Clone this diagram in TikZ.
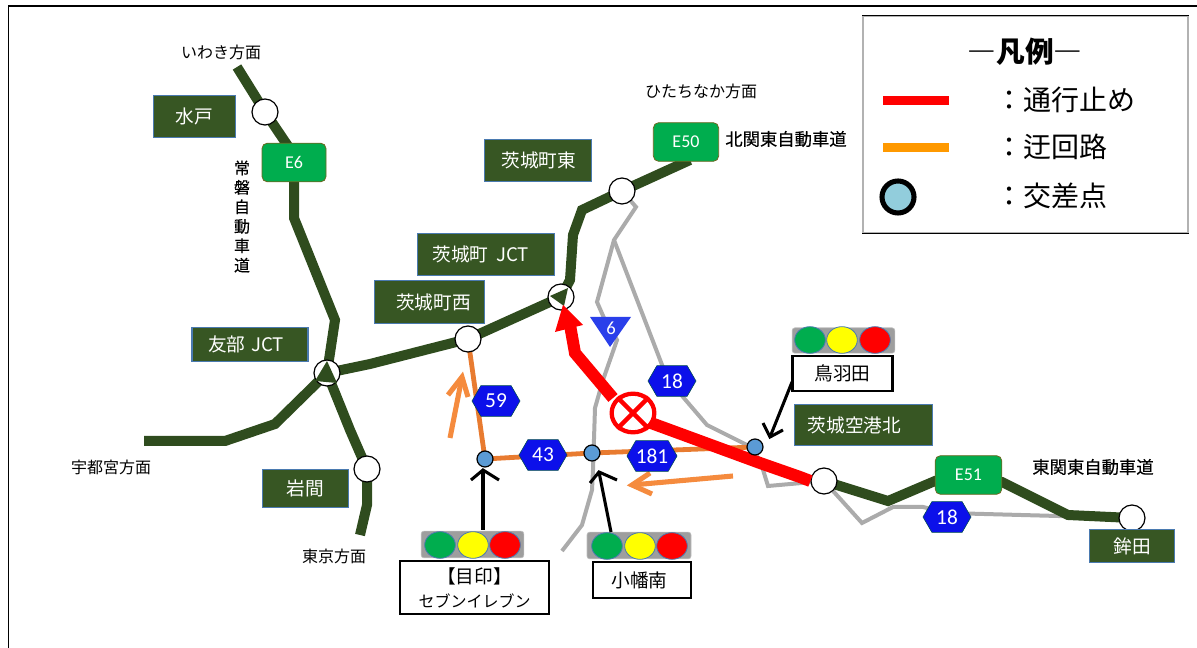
\documentclass[tikz,border=0pt]{standalone}
\usepackage{fontspec}
\setmainfont{Noto Sans CJK JP}
\newfontfamily\latinlabel{Carlito}
\newfontfamily\heavyjp[FakeBold=0.35]{Noto Sans CJK JP}
\usetikzlibrary{shapes.geometric,shapes.symbols}
\definecolor{roadgreen}{HTML}{2F4C1E}
\definecolor{labelgreen}{HTML}{375623}
\definecolor{labeledge}{HTML}{4A7AB0}
\definecolor{sigcolgreen}{HTML}{00AD4E}
\definecolor{hexblue}{HTML}{0C10EA}
\definecolor{tribue}{HTML}{2A3FEA}
\definecolor{detour}{HTML}{E87B30}
\definecolor{detourlight}{HTML}{F58B3E}
\definecolor{legendorange}{HTML}{FF9900}
\definecolor{interblue}{HTML}{5B9BD5}
\definecolor{legendblue}{HTML}{92CDDC}
\definecolor{sigyellow}{HTML}{FFFF00}
\tikzset{
  road/.style={draw=roadgreen,line width=7.5pt,line join=miter,line cap=butt},
  grayroad/.style={draw=black!33,line width=3pt,line join=miter},
  detourline/.style={draw=detour,line width=3.6pt},
  redroad/.style={draw=red,line width=9pt,line join=miter},
  softarrow/.style={draw=detourlight,line width=3.8pt,line join=miter},
  blackarrow/.style={draw=black,line width=2.3pt,line join=miter},
  ic/.style={circle,draw=black,line width=.9pt,fill=white,minimum size=19.5pt,inner sep=0pt},
  inter/.style={circle,draw=black,line width=.9pt,fill=interblue,minimum size=12pt,inner sep=0pt},
  glabel/.style={rectangle,draw=labeledge,line width=.8pt,fill=labelgreen,text=white,font=\fontsize{14pt}{16pt}\selectfont,inner sep=0pt},
  ebox/.style={rectangle,rounded corners=4pt,draw=olive!70!black,line width=.6pt,fill=sigcolgreen,text=white,font=\latinlabel\fontsize{13.5pt}{16pt}\selectfont,inner sep=0pt},
  hexlabel/.style={shape=signal,signal to=east and west,signal pointer angle=120,draw=teal!60!black,line width=.4pt,fill=hexblue,text=white,font=\latinlabel\fontsize{16pt}{16pt}\selectfont,inner sep=0pt,minimum width=36pt,minimum height=23pt},
  sigbox/.style={rectangle,rounded corners=2pt,fill=black!38,draw=black!25,line width=.5pt,inner sep=0pt},
  lamp/.style={ellipse,draw=labeledge,line width=.6pt,inner sep=0pt,minimum width=23pt,minimum height=20pt},
  callout/.style={rectangle,draw=black,line width=1.6pt,fill=white,align=center,font=\fontsize{14pt}{19pt}\selectfont,inner sep=0pt},
  place/.style={text=black,font=\fontsize{12pt}{14pt}\selectfont,inner sep=0pt},
  roadname/.style={text=black,font=\heavyjp\fontsize{13pt}{14pt}\selectfont,inner sep=0pt},
  legendtext/.style={anchor=west,inner sep=0pt,font=\fontsize{21pt}{24pt}\selectfont},
}
\begin{document}
\begin{tikzpicture}[x=.75pt,y=-.75pt]
\useasboundingbox (0,0) rectangle (1197,648);
\coordinate (frameTL) at (8.5,6);
\coordinate (frameTR) at (1197,6);
\coordinate (frameBL) at (8.5,648);
\draw[black,line width=1.4pt] (frameTR) -- (frameTL) -- (frameBL);

\coordinate (jMito) at (265,112);
\coordinate (jTomobe) at (327,373);
\coordinate (jIwama) at (367,469);
\coordinate (jWest) at (468,339);
\coordinate (jIbaraki) at (561,297);
\coordinate (jEast) at (622,191);
\coordinate (jAirport) at (824,481);
\coordinate (jHokota) at (1132,518);
\coordinate (iSeven) at (485,459);
\coordinate (iObata) at (592,453);
\coordinate (iToba) at (755,447);

% gray local roads
\coordinate (g0) at (636,207);
\coordinate (g1) at (614,240);
\coordinate (g2) at (597,302);
\coordinate (g3) at (604,318);
\coordinate (g4) at (617,340);
\coordinate (g5) at (603,380);
\coordinate (g6) at (595,408);
\coordinate (g7) at (593,470);
\coordinate (g8) at (592,490);
\coordinate (g9) at (582,525);
\coordinate (g10) at (562,551);
\draw[grayroad] (jEast) -- (g0) -- (g1) -- (g2) -- (g3) -- (g4) -- (g5) -- (g6) -- (g7) -- (g8) -- (g9) -- (g10);
\coordinate (h1) at (664,370);
\coordinate (h2) at (683,397);
\coordinate (h3) at (707,425);
\coordinate (h4) at (747,445);
\coordinate (h5) at (760,460);
\coordinate (h6) at (768,486);
\coordinate (h7) at (862,523);
\coordinate (h8) at (893,507);
\coordinate (h9) at (923,507);
\coordinate (h10) at (947,513);
\draw[grayroad] (g1) -- (h1) -- (h2) -- (h3) -- (h4) -- (h5) -- (h6) -- (jAirport) -- (h7) -- (h8) -- (h9) -- (h10) -- (jHokota);

% detour
\draw[detourline] (jWest) -- (iSeven) -- (iObata) -- (iToba);

% expressways
\coordinate (e1) at (237,67);
\coordinate (e2) at (294,155);
\coordinate (e3) at (294,218);
\coordinate (e4) at (335,320);
\draw[road] (e1) -- (jMito) -- (e2) -- (e3) -- (e4) -- (jTomobe);
\coordinate (w0) at (144,441);
\coordinate (w1) at (225,441);
\coordinate (w2) at (275,424);
\draw[road] (w0) -- (w1) -- (w2) -- (jTomobe);
\coordinate (s1) at (350,430);
\coordinate (s2) at (367,505);
\coordinate (s3) at (360,535);
\draw[road] (jTomobe) -- (s1) -- (jIwama) -- (s2) -- (s3);
\coordinate (m1) at (370,364);
\coordinate (m2) at (570,280);
\coordinate (m3) at (573,235);
\coordinate (m4) at (582,210);
\coordinate (m5) at (690,160);
\draw[road] (jTomobe) -- (m1) -- (jWest) -- (jIbaraki) -- (m2) -- (m3) -- (m4) -- (jEast) -- (m5);
\coordinate (f1) at (888,501);
\coordinate (f2) at (935,481);
\coordinate (f3) at (1002,482);
\coordinate (f4) at (1068,515);
\draw[road] (jAirport) -- (f1) -- (f2) -- (f3) -- (f4) -- (jHokota);

% interchange circles
\node[ic] (nMito) at (jMito) {};
\node[ic] (nTomobe) at (jTomobe) {};
\node[ic] (nIwama) at (jIwama) {};
\node[ic] (nWest) at (jWest) {};
\node[ic] (nIbaraki) at (jIbaraki) {};
\node[ic] (nEast) at (jEast) {};
\node[ic] (nAirport) at (jAirport) {};
\node[ic] (nHokota) at (jHokota) {};
\fill[roadgreen] (327,361) -- (315,381) -- (337,383) -- cycle;
\fill[roadgreen] (550,296) -- (568,288) -- (564,306) -- cycle;

% closed section
\coordinate (r1) at (800,477);
\coordinate (r2) at (760,463);
\coordinate (r3) at (613,398);
\coordinate (r4) at (575,353);
\coordinate (r5) at (570,325);
\coordinate (rTip) at (563,305);
\coordinate (rBarbA) at (555,332);
\coordinate (rBarbB) at (583,325);
\draw[redroad] (nAirport.west) -- (r1) -- (r2) -- (632,416);
\draw[redroad] (r3) -- (r4) -- (r5);
\fill[red] (rTip) -- (rBarbB) -- (rBarbA) -- cycle;
\node[ellipse,draw=red,line width=3.2pt,fill=white,minimum width=32pt,minimum height=29pt,inner sep=0pt] (closed) at (633,413) {};
\draw[red,line width=3.2pt] (closed.45) -- (closed.225);
\draw[red,line width=3.2pt] (closed.135) -- (closed.315);

% intersections
\node[inter] (nSeven) at (iSeven) {};
\node[inter] (nObata) at (iObata) {};
\node[inter] (nToba) at (iToba) {};

% direction arrows
\coordinate (oa1) at (450,438);
\coordinate (oa2) at (462,377);
\coordinate (oa3) at (448,395);
\coordinate (oa4) at (468,397);
\draw[softarrow] (oa1) -- (oa2);
\draw[softarrow] (oa3) -- (oa2) -- (oa4);
\coordinate (ob1) at (733,476);
\coordinate (ob2) at (632,485);
\coordinate (ob3) at (650,473);
\coordinate (ob4) at (652,494);
\draw[softarrow] (ob1) -- (ob2);
\draw[softarrow] (ob3) -- (ob2) -- (ob4);

% route shields
\node[hexlabel] (h59) at (496,401) {59};
\node[hexlabel] (h43) at (543,455) {43};
\node[hexlabel] (h181) at (652,456) {181};
\node[hexlabel] (h18a) at (672,381) {18};
\node[hexlabel] (h18b) at (947,517) {18};
\fill[tribue] (590,317) -- (631,317) -- (610,347) -- cycle;
\node[text=white,inner sep=0pt,font=\latinlabel\fontsize{14pt}{16pt}\selectfont] (r6) at (611,328) {6};

% expressway shields
\node[ebox,minimum width=48pt,minimum height=29pt] (E6) at (294,162.5) {E6};
\node[ebox,minimum width=49pt,minimum height=29pt] (E50) at (686,142) {E50};
\node[ebox,minimum width=50pt,minimum height=29pt] (E51) at (968.5,475) {E51};

% dark labels
\node[glabel,minimum width=62pt,minimum height=31pt] (lMito) at (194.5,116.5) {水戸};
\node[glabel,minimum width=80pt,minimum height=32pt] (lEast) at (538,160.5) {\hspace{1pt}茨城町東};
\node[glabel,minimum width=103pt,minimum height=32pt] (lJct) at (486,254.5) {茨城町\hspace{.4em}JCT\kern8pt};
\node[glabel,minimum width=83pt,minimum height=32pt] (lWest) at (429.5,302) {\hspace{6pt}茨城町西};
\node[glabel,minimum width=87pt,minimum height=26pt] (lTomobe) at (250,344.5) {友部\hspace{.3em}JCT\kern6pt};
\node[glabel,minimum width=65pt,minimum height=29pt] (lIwama) at (305.5,488.5) {岩間};
\node[glabel,minimum width=103pt,minimum height=31pt] (lAirport) at (863.5,425) {茨城空港北\kern13.5pt};
\node[glabel,minimum width=64pt,minimum height=25pt] (lHokota) at (1132,546) {鉾田};

% place names
\node[place] (tIwaki) at (221,52) {いわき方面};
\node[place] (tHitachi) at (701,91) {ひたちなか方面};
\node[roadname] (tKita) at (786,139) {北関東自動車道};
\node[roadname] (tHigashi) at (1093,467) {東関東自動車道};
\node[place,align=center,font=\heavyjp\fontsize{12pt}{14.6pt}\selectfont] (tJoban) at (242,216.5) {常\\磐\\自\\動\\車\\道};
\node[place] (tUtsu) at (111,467) {宇都宮方面};
\node[place] (tTokyo) at (334,556) {東京方面};

% signals
\node[sigbox,minimum width=77pt,minimum height=20pt] (sigA) at (472.5,544.5) {};
\node[lamp,fill=sigcolgreen] (aG) at (440,545) {};
\node[lamp,fill=sigyellow] (aY) at (473,545) {};
\node[lamp,fill=red] (aR) at (505,545) {};
\node[sigbox,minimum width=78pt,minimum height=20pt] (sigB) at (639,545.5) {};
\node[lamp,fill=sigcolgreen] (bG) at (607,546) {};
\node[lamp,fill=sigyellow] (bY) at (640,546) {};
\node[lamp,fill=red] (bR) at (672,546) {};
\node[sigbox,minimum width=77pt,minimum height=19pt] (sigC) at (843.5,340.5) {};
\node[lamp,fill=sigcolgreen] (cG) at (810,340) {};
\node[lamp,fill=sigyellow] (cY) at (842,340) {};
\node[lamp,fill=red] (cR) at (875,340) {};

% callouts
\node[callout,minimum width=112pt,minimum height=40pt] (cSeven) at (474.5,587.5) {【目印】\\[-1pt]{\fontsize{12pt}{16pt}\selectfont セブンイレブン}};
\node[callout,minimum width=74pt,minimum height=27pt] (cObata) at (642,580) {小幡南\kern3.75pt};
\node[callout,minimum width=75pt,minimum height=26pt] (cToba) at (842.5,373.5) {鳥羽田};

% black arrows
\coordinate (ka1) at (483,530);
\coordinate (ka2) at (483,470);
\coordinate (ka3) at (471,480);
\coordinate (ka4) at (499,480);
\draw[blackarrow] (ka1) -- (ka2);
\draw[blackarrow] (ka3) -- (ka2) -- (ka4);
\coordinate (kb1) at (611,532);
\coordinate (kb2) at (599,472);
\coordinate (kb3) at (590,483);
\coordinate (kb4) at (617,480);
\draw[blackarrow] (kb1) -- (kb2);
\draw[blackarrow] (kb3) -- (kb2) -- (kb4);
\coordinate (kc1) at (792,382);
\coordinate (kc2) at (770,437);
\coordinate (kc3) at (763,423);
\coordinate (kc4) at (783,430);
\draw[blackarrow] (kc1) -- (kc2);
\draw[blackarrow] (kc3) -- (kc2) -- (kc4);

% legend
\node[rectangle,draw=black!30,line width=.9pt,fill=white,minimum width=243.75pt,minimum height=162.75pt,inner sep=0pt] (legend) at (1025.5,124.5) {};
\draw[black,line width=1pt] (legend.north west) -- (legend.north east);
\draw[black,line width=1pt] (legend.south west) -- (legend.south east);
\node[inner sep=0pt,font=\fontsize{21.5pt}{24pt}\selectfont\bfseries] (lgTitle) at (1025,52) {―凡例―};
\coordinate (lr1) at (883,100.5);
\coordinate (lr2) at (949,100.5);
\coordinate (lo1) at (883,147.5);
\coordinate (lo2) at (949,147.5);
\draw[red,line width=6.8pt] (lr1) -- (lr2);
\draw[legendorange,line width=6.8pt] (lo1) -- (lo2);
\node[circle,draw=black,line width=3.8pt,fill=legendblue,minimum size=24pt,inner sep=0pt] (lgCircle) at (898,197) {};
\node[legendtext] (lg1) at (995,100) {：通行止め};
\node[legendtext] (lg2) at (995,147) {：迂回路};
\node[legendtext] (lg3) at (995,196) {：交差点};
\end{tikzpicture}
\end{document}
